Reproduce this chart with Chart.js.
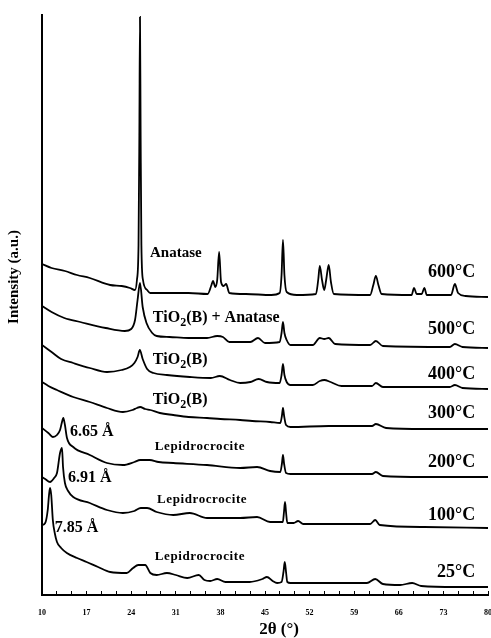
<!DOCTYPE html>
<html>
<head>
<meta charset="utf-8">
<script src="https://cdn.jsdelivr.net/npm/chart.js@4.4.0/dist/chart.umd.min.js"></script>
<style>
html, body { margin: 0; padding: 0; background: #fff; }
#wrap { width: 491px; height: 638px; }
</style>
</head>
<body>
<div id="wrap"><canvas id="xrdChart" width="491" height="638"></canvas></div>
<script>
// 2θ tick labels
const tickLabels = [10, 17, 24, 31, 38, 45, 52, 59, 66, 73, 80];
const temps = ['600°C', '500°C', '400°C', '300°C', '200°C', '100°C', '25°C'];

// [2θ, intensity (a.u.)]
const s600 = [[10,331],[11.5,327],[13.6,324],[15.5,320],[17.5,317],[20.7,310],[22.5,309],[23.8,307],[24.6,305],[24.9,315],[25.15,350],[25.28,460],[25.38,578],[25.48,460],[25.6,350],[25.85,315],[26.5,305],[27,302],[30,302],[33,302],[36,301],[36.6,310],[36.84,314],[37.2,308],[37.5,315],[37.8,343],[38.1,313],[38.5,309],[38.9,311],[39.4,302],[42,301],[46,300],[47.3,302],[47.6,320],[47.82,355],[48.05,320],[48.4,303],[50,300],[53,301],[53.35,315],[53.6,329],[53.95,315],[54.3,305],[54.6,315],[55,330],[55.35,313],[55.8,301],[61.5,300],[62,310],[62.4,319],[62.8,310],[63.3,301],[68,300],[68.4,307],[68.8,301],[69.6,301],[70,307],[70.4,300],[74.2,300],[74.8,311],[75.3,302],[76.5,299],[80,298]];
const s500 = [[10,289],[11.5,283],[13.5,277],[16,273],[20,267],[23,264],[24.0,266],[24.6,275],[25.0,295],[25.38,312],[25.8,288],[26.4,272],[27.3,262],[28,259],[30,258],[33,257],[35.9,257],[37.5,259],[38.4,258],[39.4,253],[42.7,253],[43.9,257],[45,252],[47.3,253],[47.6,262],[47.82,273],[48.05,262],[48.4,255],[49,250],[52.5,250],[53.6,257],[54.3,256],[55,257],[56,251],[61.5,250],[62.4,254],[63.5,249],[74,248],[74.8,251],[76,248],[80,247]];
const s400 = [[10,250],[11.5,243],[13,236],[14.9,232],[17.5,227],[20.2,223],[22.5,225],[23.8,228],[24.5,232],[25.0,238],[25.35,245],[25.8,236],[26.5,226],[27.5,222],[29.6,220],[33.2,218],[36.5,217],[37.9,219],[39.5,215],[41.1,212],[42.7,213],[44,216],[45.3,213],[47.3,212],[47.6,220],[47.82,231],[48.05,220],[48.4,213],[49,210],[52.5,210],[53.6,214],[54.3,215],[55.3,213],[57,209],[61.8,209],[62.4,212],[63.5,208],[74,208],[74.8,210],[76,207],[80,206]];
const s300 = [[10,213],[11,209],[12.35,205],[14.9,198],[17.5,193],[20.2,187],[22.7,183],[24.2,185],[24.9,187],[25.4,188],[26.2,186],[27,185],[28.5,182],[30.6,180],[33,178],[35.9,177],[38,176],[41.1,175],[43,174],[45.8,173],[47.4,172],[47.65,179],[47.82,187],[48.0,179],[48.3,170],[49,168],[55,169],[61.8,169],[62.4,171],[64,167],[70,166],[80,166]];
const s200 = [[10,167],[11.0,162],[11.7,158],[12.35,160],[12.83,165],[13.1,172],[13.35,177],[13.6,170],[13.92,157],[14.9,148],[17.5,140],[20.2,132],[22.7,130],[24.5,133],[25.4,135],[26.9,135],[28.3,133],[30.6,132],[35.9,130],[41.1,127],[43.75,128],[45.8,124],[47.4,123],[47.65,131],[47.82,140],[48.0,131],[48.3,122],[49,121],[55,121],[61.8,121],[62.4,123],[63.5,119],[70,118],[80,118]];
const s100 = [[10,118],[10.5,116],[11.26,113],[11.9,117],[12.35,122],[12.83,142],[13.14,147],[13.3,128],[13.6,112],[14.1,104],[14.9,98],[17.5,92],[20.2,85],[22.7,82],[24.5,84],[25.5,87],[26.5,87],[28,83],[30.6,80],[33.2,82],[35.9,77],[41.1,77],[43.75,78],[45.8,73],[47.8,73],[47.98,83],[48.14,93],[48.3,83],[48.5,72],[49.5,72],[50.2,74],[51,71],[61.5,71],[62.3,75],[63,70],[70,68],[80,67]];
const s25 = [[10,70],[10.5,72],[10.9,85],[11.1,100],[11.26,107],[11.45,100],[11.7,75],[12.0,62],[12.35,53],[13.0,47],[13.9,42],[15.5,37],[17,33],[18.8,28],[20.7,23],[23.3,22],[24.3,27],[25.1,30],[26.2,30],[27,22],[28,20],[29.6,22],[31,20],[32.8,17],[34.6,20],[35.5,15],[36.4,14],[37.5,16],[38.8,13],[42.6,13],[44.6,16],[45.3,18],[46.2,14],[46.9,12],[47.6,13],[47.9,23],[48.1,33],[48.3,23],[48.5,13],[49,12],[53,12],[61,12],[62.3,16],[63.5,11],[66.2,10],[68.1,12],[69.5,9],[75,8],[80,8]];
const patterns = [s600, s500, s400, s300, s200, s100, s25];

// label anchors in data units (2θ, a.u.)
const tempLabelX = 78;
const tempLabelY = [323, 266, 221, 182, 133, 80, 23];
const phaseNames = ['Anatase', 'TiO|2|(B) + Anatase', 'TiO|2|(B)', 'TiO|2|(B)', 'Lepidrocrocite', 'Lepidrocrocite', 'Lepidrocrocite'];
const phaseX = [26.95, 27.4, 27.4, 27.4, 27.7, 28.05, 27.7];
const phaseY = [342, 277, 235, 195, 148, 95, 38];
const dSpacings = ['6.65 Å', '6.91 Å', '7.85 Å'];
const dX = [14.4, 14.1, 12.0];
const dY = [163, 117, 67];

const serif = "'Liberation Serif', 'DejaVu Serif', serif";

// draws "TiO|2|(B)" style text, middle part as subscript
function drawSub(c, str, x, y, size) {
    let parts = str.split('|');
    for (let i = 0; i < parts.length; i++) {
        let sub = i % 2 === 1;
        c.font = 'bold ' + (sub ? Math.round(size * 0.75) : size) + 'px ' + serif;
        c.fillText(parts[i], x, sub ? y + size * 0.3 : y);
        x += c.measureText(parts[i]).width;
    }
}

const labelPlugin = {
    id: 'xrdLabels',
    afterDatasetsDraw(chart) {
        let c = chart.ctx;
        let xs = chart.scales.x, ys = chart.scales.y;
        c.save();
        c.fillStyle = '#000';
        c.textBaseline = 'middle';

        // temperatures
        c.textAlign = 'right';
        c.font = 'bold 18px ' + serif;
        temps.forEach((t, i) => c.fillText(t, xs.getPixelForValue(tempLabelX), ys.getPixelForValue(tempLabelY[i])));

        // phase names
        c.textAlign = 'left';
        phaseNames.forEach((p, i) => {
            let x = xs.getPixelForValue(phaseX[i]), y = ys.getPixelForValue(phaseY[i]);
            if (p === 'Lepidrocrocite') {
                c.letterSpacing = '0.6px';
                c.font = 'bold 13px ' + serif;
                c.fillText(p, x, y);
                c.letterSpacing = '0px';
            } else if (p === 'Anatase') {
                c.font = 'bold 15px ' + serif;
                c.fillText(p, x, y);
            } else {
                drawSub(c, p, x, y, 16);
            }
        });

        // d-spacings
        c.font = 'bold 16px ' + serif;
        dSpacings.forEach((d, i) => c.fillText(d, xs.getPixelForValue(dX[i]), ys.getPixelForValue(dY[i])));

        // axis titles
        c.textAlign = 'center';
        c.font = 'bold 17px ' + serif;
        c.fillText('2θ (°)', 279, 630);
        c.translate(14, 277);
        c.rotate(-Math.PI / 2);
        c.font = 'bold 15px ' + serif;
        c.fillText('Intensity (a.u.)', 0, 0);
        c.restore();
    }
};

let ctx = document.getElementById('xrdChart').getContext('2d');
let xrdChart = new Chart(ctx, {
    type: 'line',
    data: {
        datasets: patterns.map((s, i) => ({
            label: temps[i],
            data: s.map(p => ({ x: p[0], y: p[1] })),
            borderColor: '#000',
            borderWidth: 1.8,
            pointRadius: 0,
            fill: false,
            cubicInterpolationMode: 'monotone'
        }))
    },
    options: {
        responsive: false,
        animation: false,
        layout: { padding: { top: 15, right: 3, left: 0, bottom: 0 } },
        plugins: { legend: { display: false }, tooltip: { enabled: false } },
        scales: {
            x: {
                type: 'linear',
                min: 10,
                max: 80,
                afterFit: s => { s.height = 43; s.paddingLeft = 0; s.paddingRight = 0; },
                border: { color: '#000', width: 2 },
                grid: { drawOnChartArea: false, color: '#000', tickLength: -4, lineWidth: 1 },
                ticks: {
                    stepSize: 7 / 3,
                    autoSkip: false,
                    maxRotation: 0,
                    padding: 17,
                    color: '#000',
                    font: { family: serif, size: 8, weight: 'bold' },
                    callback: v => {
                        let k = (v - 10) / 7;
                        return Math.abs(k - Math.round(k)) < 1e-6 ? String(tickLabels[Math.round(k)]) : '';
                    }
                }
            },
            y: {
                type: 'linear',
                min: 0,
                max: 580,
                afterFit: s => { s.width = 42; },
                border: { color: '#000', width: 2 },
                grid: { display: false },
                ticks: { display: false }
            }
        }
    },
    plugins: [labelPlugin]
});
</script>
</body>
</html>
